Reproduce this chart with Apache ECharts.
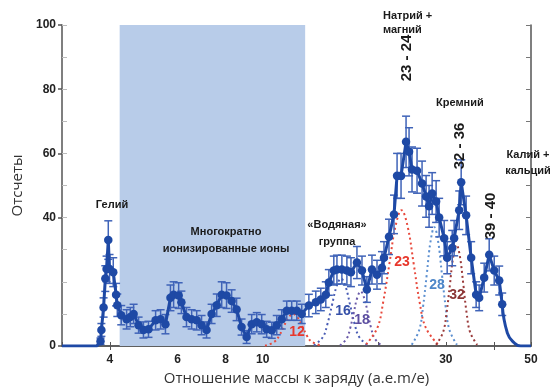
<!DOCTYPE html>
<html><head><meta charset="utf-8">
<script src="https://cdn.jsdelivr.net/npm/echarts@6/dist/echarts.min.js"></script>
<style>html,body{margin:0;padding:0;background:#fff}#c{width:554px;height:391px}</style>
</head><body><div id="c"></div><script>
// Mass-to-charge spectrum: measured counts with error bars
const massRatio = [3.78,3.80,3.85,3.89,3.92,3.96,3.99,4.08,4.15,4.18,4.28,4.42,4.52,4.61,4.75,4.89,5.04,5.26,5.42,5.58,5.75,5.86,6.04,6.14,6.33,6.53,6.73,6.93,7.14,7.36,7.59,7.82,8.05,8.30,8.55,8.81,9.08,9.36,9.65,9.94,10.24,10.56,10.88,11.21,11.55,11.90,12.27,12.64,13.19,13.75,14.17,14.60,14.87,15.32,15.61,16.08,16.57,16.98,17.60,18.14,18.68,19.26,19.85,20.45,20.70,21.33,21.98,22.39,22.93,23.63,24.06,24.49,25.24,26.01,26.65,27.13,27.63,28.30,28.82,29.70,30.24,31.17,31.53,32.5,32.89,33.88,34.92,35.98,36.64,37.76,38.91,40.10,41.32,42.07];
const counts =    [1.5,5,12,21,24,33,24,23,16,12.7,9.6,8.3,9,10,6.5,5,5.2,8,8.3,6.8,15,16,15.7,13.6,9,8.3,8,6.5,5,10,12.7,16,15.7,14,11.4,5.9,2.8,6.8,7.4,6.8,5.2,4.9,6.5,8.3,11,11,11,10,12.6,13.6,14.5,16,19.8,23.5,23.8,23.8,23.5,23,26,23.5,17.6,23.8,22.2,24.4,27.5,34,41,53,53,63.6,60.5,55,54.6,50.6,46.6,43.5,47.5,45,40,33.6,27.5,30.5,33.6,42.3,51,40.7,27.5,16,15,21.3,28.4,23.5,20.4,13];
const countErr =  [1,2,3,4,4,6,4.5,4.5,3.5,3.5,3,3,3,3,2.5,2.5,2.5,3,3,3,4,4,4,3.5,3,3,3,3,2.5,3,3.5,4,4,3.5,3.5,2.5,2,3,3,3,2.5,2.5,3,3,3,3,3,3,3.5,3.5,3.5,4,4,4.5,4.5,4.5,4.5,4.5,5,4.5,4,4.5,4.5,5,5,5.5,6,7,7,8,7.5,7,7,7,6.5,6.5,6.5,6.5,6,5.5,5,5.5,5.5,6,7,6,5,4,4,4.5,5,4.5,4.5,3.5];

// Baseline before the first and after the last measured point
const leftTailMass = [3, 3.7, 3.78];
const leftTailCounts = [0, 0, 1.5];
const rightTailMass = [42.07, 43.4, 45.2, 47, 50];
const rightTailCounts = [13, 4, 1, 0, 0];

// Fitted peak components
const peak12Mass = [10.14,10.74,11.04,11.35,11.67,12,12.34,12.69,13.04,13.41,14.2];
const peak12Counts = [0.1,1.35,3.2,6.1,8.8,10,8.8,6.1,3.2,1.35,0.1];
const peak16Mass = [13.6,14.35,14.74,15.15,15.57,16,16.44,16.9,17.36,17.84,18.8];
const peak16Counts = [0.2,2.8,6.8,12.7,18.5,21,18.5,12.7,6.8,2.8,0.2];
const peak18Mass = [15.9,16.55,16.9,17.26,17.63,18,18.38,18.78,19.17,19.58,20.4];
const peak18Counts = [0.2,2.3,5.5,10.3,15,17,15,10.3,5.5,2.3,0.2];
const peak23Mass = [18.6,19.9,20.6,21.39,22.18,23,23.85,24.73,25.63,26.6,28.6];
const peak23Counts = [0.5,5.7,13.7,25.7,37.3,42.3,37.3,25.7,13.7,5.7,0.5];
const peak28Mass = [24.45,25.57,26.15,26.76,27.37,28,28.64,29.3,29.98,30.66,32.06];
const peak28Counts = [0.4,5,12,22.4,32.6,37,32.6,22.4,12,5,0.4];
const peak32Mass = [28.3,29.5,30.12,30.74,31.36,32,32.65,33.32,33.99,34.7,36.2];
const peak32Counts = [0.35,4.3,10.2,19.1,27.8,31.5,27.8,19.1,10.2,4.3,0.35];

// Multiply-ionized ions region
const bandRange = [4.24, 12.9];

// Axis ticks
const xLabelValues = [4, 6, 8, 10, 30, 50];
const xTickValues = [3,4,5,6,7,8,9,10,20,30,40,50];
const yLabelValues = [0, 40, 60, 80, 100];

const pairs = (xs, ys) => xs.map((x, i) => [x, ys[i]]);

const BLUE = '#1e49a5';
const chart = echarts.init(document.getElementById('c'), null, {renderer: 'canvas'});

function peakSeries(xs, ys, color) {
  return {
    type: 'line', data: pairs(xs, ys), smooth: 0.4, showSymbol: false, z: 3,
    lineStyle: {color: color, width: 2, type: [2, 3]}, silent: true
  };
}

const boldFont = '"Liberation Sans", Arial, sans-serif';
function txt(x, y, text, opts) {
  opts = opts || {};
  return {
    type: 'text', x: x, y: y, rotation: opts.rot || 0, z: 100,
    style: {
      text: text, fill: opts.color || '#1a1a1a',
      font: 'bold ' + (opts.size || 11) + 'px ' + boldFont,
      align: opts.align || 'center', verticalAlign: 'middle', lineHeight: opts.lh || 16
    }
  };
}

chart.setOption({
  animation: false,
  grid: {left: 62, right: 23, top: 25, bottom: 42},
  xAxis: [{
    type: 'log', logBase: 10, min: 3, max: 50, position: 'bottom',
    axisLine: {show: true, lineStyle: {color: '#555', width: 1.5}},
    axisTick: {show: true, inside: true, length: 4, customValues: xTickValues, lineStyle: {color: '#555'}},
    axisLabel: {customValues: xLabelValues, color: '#222', fontWeight: 'bold', fontSize: 12, fontFamily: boldFont, margin: 8},
    splitLine: {show: false},
    name: 'Отношение массы к заряду (a.e.m/e)', nameLocation: 'middle', nameGap: 25,
    nameTextStyle: {fontSize: 15, color: '#333', fontFamily: '"Open Sans", sans-serif'}
  }, {
    type: 'log', logBase: 10, min: 3, max: 50, position: 'top',
    axisLine: {show: true, lineStyle: {color: '#555', width: 1.5}},
    axisTick: {show: true, inside: true, length: 4, customValues: [4, 40], lineStyle: {color: '#555'}},
    axisLabel: {show: false}, splitLine: {show: false}
  }],
  yAxis: [{
    type: 'value', min: 0, max: 100, interval: 10, position: 'left',
    axisLine: {show: true, lineStyle: {color: '#555', width: 1.5}},
    axisTick: {show: true, inside: true, length: 5, lineStyle: {color: '#bbb'}},
    axisLabel: {customValues: yLabelValues, color: '#222', fontWeight: 'bold', fontSize: 12, fontFamily: boldFont, margin: 6},
    splitLine: {show: false},
    name: 'Отсчеты', nameLocation: 'middle', nameGap: 36, nameRotate: 90,
    nameTextStyle: {fontSize: 15, color: '#333', fontFamily: '"Open Sans", sans-serif'}
  }, {
    type: 'value', min: 0, max: 100, interval: 10, position: 'right',
    axisLine: {show: true, lineStyle: {color: '#555', width: 1.5}},
    axisTick: {show: true, inside: true, length: 5, lineStyle: {color: '#777'}},
    axisLabel: {show: false}, splitLine: {show: false}
  }, {
    type: 'value', min: 0, max: 100, position: 'left',
    axisLine: {show: false},
    axisTick: {show: true, inside: false, length: 4, customValues: yLabelValues, lineStyle: {color: '#555', width: 1.5}},
    axisLabel: {show: false}, splitLine: {show: false}
  }],
  series: [
    {
      type: 'line', data: [], z: 1, silent: true,
      markArea: {silent: true, itemStyle: {color: '#b8cce9', opacity: 1},
        data: [[{xAxis: bandRange[0]}, {xAxis: bandRange[1]}]]}
    },
    peakSeries(peak12Mass, peak12Counts, '#e8493c'),
    peakSeries(peak16Mass, peak16Counts, '#4a5db5'),
    peakSeries(peak18Mass, peak18Counts, '#6a5aa8'),
    peakSeries(peak23Mass, peak23Counts, '#e8493c'),
    peakSeries(peak28Mass, peak28Counts, '#5b8fd0'),
    peakSeries(peak32Mass, peak32Counts, '#9a3a3a'),
    {
      type: 'custom', z: 4, silent: true,
      data: massRatio.map((m, i) => [m, counts[i] - countErr[i], counts[i] + countErr[i]]),
      renderItem: function (params, api) {
        const lo = api.coord([api.value(0), api.value(1)]);
        const hi = api.coord([api.value(0), api.value(2)]);
        const w = 4;
        const st = {stroke: '#3f63b8', lineWidth: 1.5};
        return {type: 'group', children: [
          {type: 'line', shape: {x1: lo[0], y1: lo[1], x2: hi[0], y2: hi[1]}, style: st},
          {type: 'line', shape: {x1: hi[0] - w, y1: hi[1], x2: hi[0] + w, y2: hi[1]}, style: st},
          {type: 'line', shape: {x1: lo[0] - w, y1: lo[1], x2: lo[0] + w, y2: lo[1]}, style: st}
        ]};
      }
    },
    {
      type: 'line', data: pairs(leftTailMass, leftTailCounts), showSymbol: false, z: 5,
      lineStyle: {color: BLUE, width: 3}, silent: true
    },
    {
      type: 'line', data: pairs(rightTailMass, rightTailCounts), showSymbol: false, smooth: 0.5, z: 5,
      lineStyle: {color: BLUE, width: 3}, silent: true
    },
    {
      type: 'line', data: pairs(massRatio, counts), z: 6,
      symbol: 'circle', symbolSize: 8.5,
      itemStyle: {color: BLUE}, lineStyle: {color: BLUE, width: 3}, silent: true
    }
  ],
  graphic: [
    txt(112, 205, 'Гелий'),
    txt(226, 240, 'Многократно\nионизированные ионы', {lh: 17}),
    txt(337, 233, '«Водяная»\nгруппа', {lh: 17}),
    txt(383, 23, 'Натрий +\nмагний', {align: 'left', lh: 14}),
    txt(436, 103, 'Кремний', {align: 'left'}),
    txt(528, 163, 'Калий +\nкальций', {lh: 16}),
    txt(407, 58, '23 - 24', {rot: Math.PI / 2, size: 15}),
    txt(460, 146, '32 - 36', {rot: Math.PI / 2, size: 15}),
    txt(491, 216, '39 - 40', {rot: Math.PI / 2, size: 15}),
    txt(297, 332, '12', {color: '#e8372c', size: 14}),
    txt(343, 311, '16', {color: '#3550a8', size: 14}),
    txt(362, 320, '18', {color: '#5c4ea0', size: 14}),
    txt(402, 262, '23', {color: '#e8372c', size: 14}),
    txt(437, 285, '28', {color: '#4d86c8', size: 14}),
    txt(457, 295, '32', {color: '#8a3535', size: 14})
  ]
});
</script></body></html>
